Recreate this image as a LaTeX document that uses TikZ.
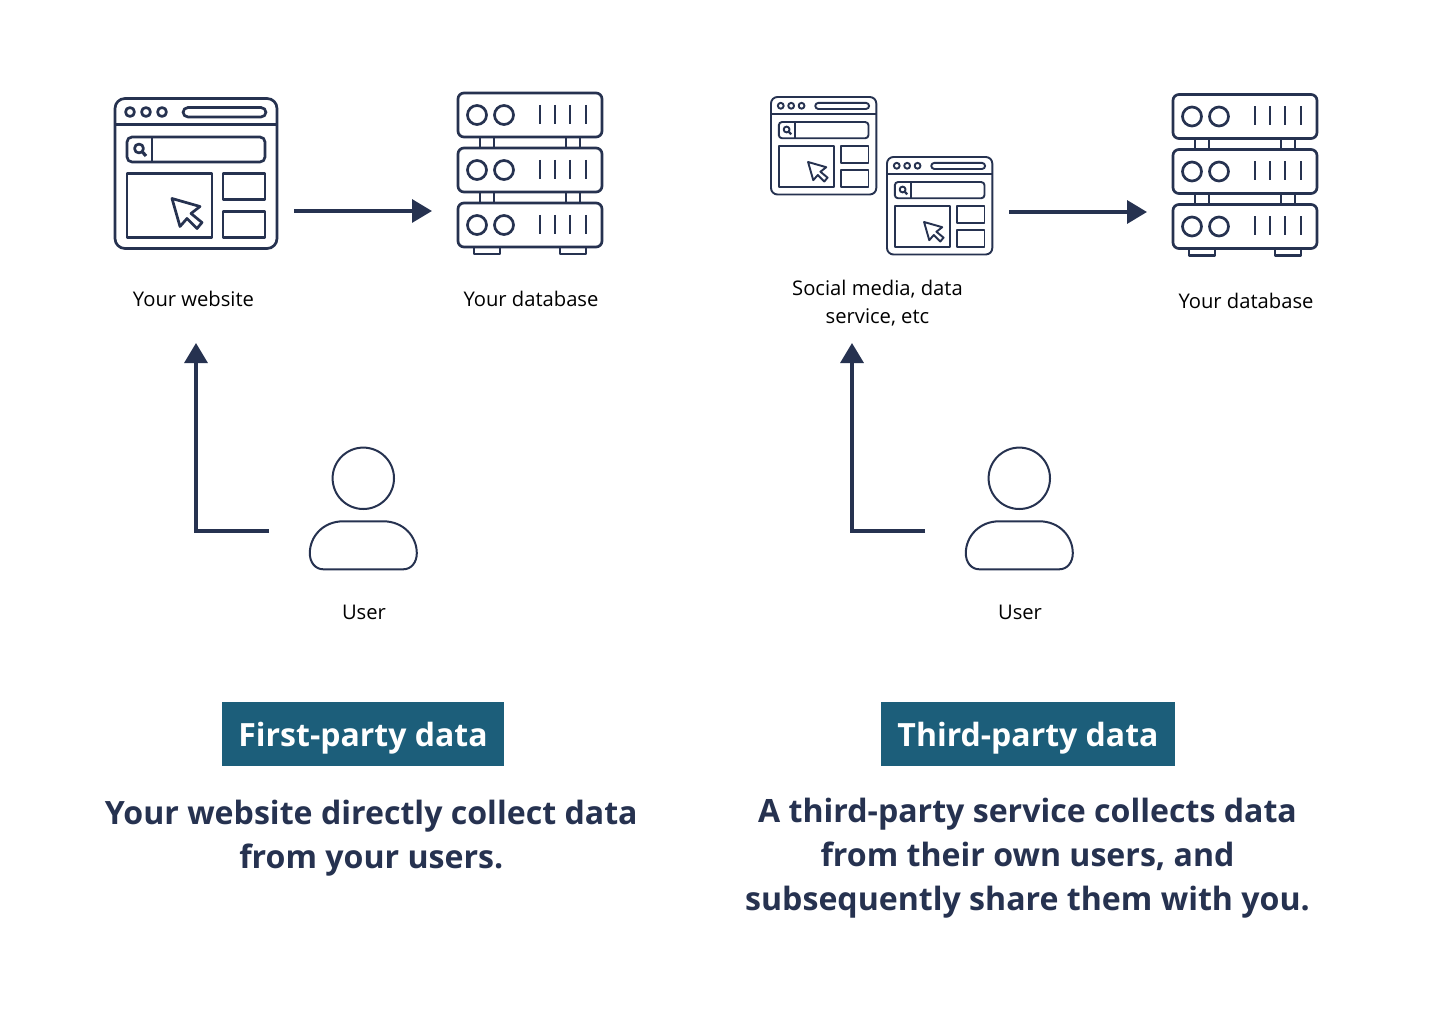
\documentclass[tikz,border=0pt]{standalone}
\usepackage{fontspec}
\setmainfont{Open Sans}
\definecolor{navy}{HTML}{263250}
\definecolor{teal}{HTML}{1C5E7A}
\usetikzlibrary{arrows.meta}
\tikzset{
  icon/.style={draw=navy,line width=#1,line join=round},
  icon/.default=2,
  flow/.style={draw=navy,line width=3.3pt,-{Triangle[length=20pt,width=23pt]}},
  label/.style={text=black,font=\fontsize{20.2}{28}\selectfont,align=center,inner sep=0},
  bannertext/.style={text=white,font=\bfseries\fontsize{32}{40}\selectfont,inner sep=0},
  caption/.style={text=navy,font=\bfseries\fontsize{32.1}{44}\selectfont,align=center,inner sep=0},
}
\newcommand{\browser}[4]{% x, y, scale, line width
\begin{scope}[shift={(#1,#2)},scale=#3,icon=#4]
  \pgfmathsetmacro{\rr}{#3}
  \draw[rounded corners=\rr*10pt] (0,0) rectangle (162,150);
  \draw (0,26) -- (162,26);
  \foreach \cx in {15,31,47} \draw (\cx,13.5) circle[radius=4.5];
  \draw[rounded corners=\rr*5pt] (68,9) rectangle (151,18.5);
  \draw[rounded corners=\rr*5pt] (12,38.5) rectangle (150,63.5);
  \draw (37,38.5) -- (37,63.5);
  \draw (24,50) circle[radius=4.5];
  \draw[line width=#4*1.2pt] (27.5,53.5) -- (31,57.5);
  \draw (12,75) rectangle (97,139);
  \draw (108,75) rectangle (150,101);
  \draw (108,113) rectangle (150,139);
  \draw (57,100) -- (85,108) -- (76,115) -- (87,124) -- (82,130) -- (72,120) -- (65,128) -- cycle;
\end{scope}}
\newcommand{\serverrack}[2]{%
\begin{scope}[shift={(#1,#2)},icon=2.7]
  \foreach \a in {0,55,110}{
    \draw[rounded corners=6pt] (0,\a) rectangle (144,\a+44);
    \draw (19,\a+22) circle[radius=9.5];
    \draw (46,\a+22) circle[radius=9.5];
    \foreach \b in {82,97,112,128} \draw (\b,\a+12) -- (\b,\a+31);
  }
  \foreach \a in {44,99}{
    \draw (22,\a) rectangle (36,\a+11);
    \draw (108,\a) rectangle (122,\a+11);
  }
  \draw (16,154) -- (16,161) -- (42,161) -- (42,154);
  \draw (102,154) -- (102,161) -- (128,161) -- (128,154);
\end{scope}}
\newcommand{\person}[2]{%
\begin{scope}[shift={(#1,#2)},icon=2]
  \draw (0,0) circle[radius=30.7];
  \draw (-20,43) .. controls (-40,43) and (-53.5,58) .. (-53.5,75)
    .. controls (-53.5,84) and (-48,91) .. (-40,91) -- (40,91)
    .. controls (48,91) and (53.5,84) .. (53.5,75)
    .. controls (53.5,58) and (40,43) .. (20,43) -- cycle;
\end{scope}}
\begin{document}
\begin{tikzpicture}[x=1pt,y=-1pt]
\useasboundingbox (0,0) rectangle (1440,1024);
\fill[white] (0,0) rectangle (1440,1024);
\browser{115}{98.5}{1}{2.7}
\serverrack{458}{93}
\browser{771}{97}{0.65}{1.9}
\browser{887}{157}{0.65}{1.9}
\serverrack{1173}{94.5}
\person{363.3}{478.3}
\person{1019.3}{478.3}

\coordinate (a1s) at (294,211); \coordinate (a1e) at (432,211);
\coordinate (a2s) at (269,531); \coordinate (a2c) at (196,531); \coordinate (a2e) at (196,343);
\coordinate (a3s) at (1009,212); \coordinate (a3e) at (1147,212);
\coordinate (a4s) at (925,531); \coordinate (a4c) at (852,531); \coordinate (a4e) at (852,343);
\draw[flow] (a1s) -- (a1e);
\draw[flow] (a2s) -- (a2c) -- (a2e);
\draw[flow] (a3s) -- (a3e);
\draw[flow] (a4s) -- (a4c) -- (a4e);

\node[label] (l1) at (193.5,299) {Your website};
\node[label] (l2) at (531,299) {Your database};
\node[label] (l3) at (877.5,303.5) {Social media, data\\service, etc};
\node[label] (l4) at (1246,300.5) {Your database};
\node[label] (l5) at (364,612) {User};
\node[label] (l6) at (1020,612) {User};

\fill[teal] (222,702) rectangle (504,766);
\fill[teal] (881,702) rectangle (1175,766);
\node[bannertext] (b1) at (363,738.5) {First-party data};
\node[bannertext] (b2) at (1028,738.5) {Third-party data};
\node[caption] (c1) at (371.3,838) {Your website directly collect data\\from your users.};
\node[caption] (c2) at (1027.5,858) {A third-party service collects data\\from their own users, and\\subsequently share them with you.};
\end{tikzpicture}
\end{document}
